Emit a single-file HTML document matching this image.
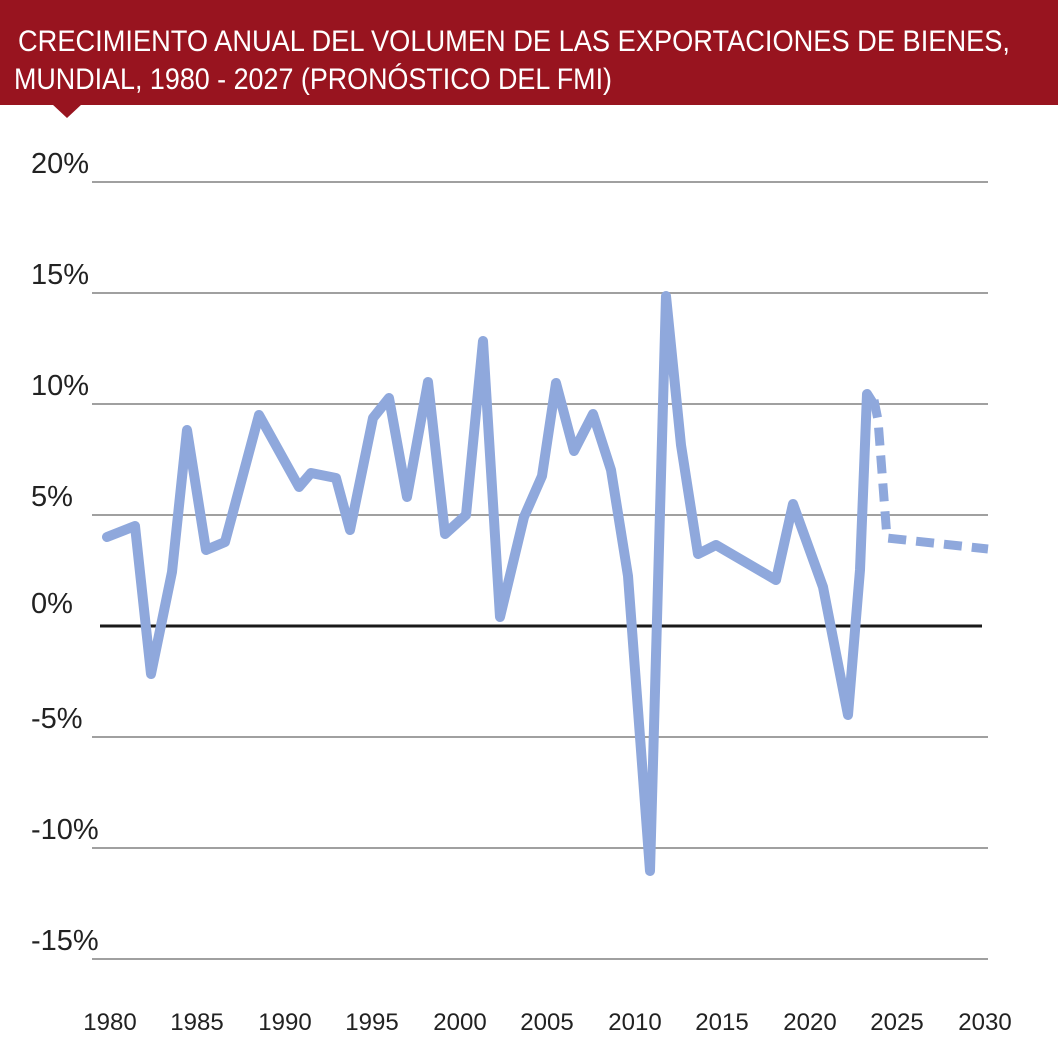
<!DOCTYPE html>
<html><head><meta charset="utf-8"><style>
html,body{margin:0;padding:0;background:#fff;}
svg{display:block;font-family:"Liberation Sans",sans-serif;}
</style></head><body>
<svg width="1058" height="1046" viewBox="0 0 1058 1046">
<rect x="0" y="0" width="1058" height="105" fill="#98141f"/>
<polygon points="52,104 82,104 67,118" fill="#98141f"/>
<text x="18" y="51" font-size="30" fill="#fff" textLength="992" lengthAdjust="spacingAndGlyphs">CRECIMIENTO ANUAL DEL VOLUMEN DE LAS EXPORTACIONES DE BIENES,</text>
<text x="14" y="89" font-size="30" fill="#fff" textLength="598" lengthAdjust="spacingAndGlyphs">MUNDIAL, 1980 - 2027 (PRONÓSTICO DEL FMI)</text>
<g stroke="#a0a0a0" stroke-width="2">
<line x1="92" y1="182" x2="988" y2="182"/>
<line x1="92" y1="293" x2="988" y2="293"/>
<line x1="92" y1="404" x2="988" y2="404"/>
<line x1="92" y1="515" x2="988" y2="515"/>
<line x1="92" y1="737" x2="988" y2="737"/>
<line x1="92" y1="848" x2="988" y2="848"/>
<line x1="92" y1="959" x2="988" y2="959"/>
</g>
<line x1="100" y1="626" x2="982" y2="626" stroke="#1a1a1a" stroke-width="3"/>
<g font-size="29" fill="#222">
<text x="31" y="173">20%</text>
<text x="31" y="284">15%</text>
<text x="31" y="395">10%</text>
<text x="31" y="506">5%</text>
<text x="31" y="613">0%</text>
<text x="31" y="728">-5%</text>
<text x="31" y="839">-10%</text>
<text x="31" y="950">-15%</text>
</g>
<g font-size="24" fill="#222" text-anchor="middle">
<text x="110" y="1030">1980</text>
<text x="197" y="1030">1985</text>
<text x="285" y="1030">1990</text>
<text x="372" y="1030">1995</text>
<text x="460" y="1030">2000</text>
<text x="547" y="1030">2005</text>
<text x="635" y="1030">2010</text>
<text x="722" y="1030">2015</text>
<text x="810" y="1030">2020</text>
<text x="897" y="1030">2025</text>
<text x="985" y="1030">2030</text>
</g>
<polyline fill="none" stroke="#8fa8dc" stroke-width="10" stroke-linejoin="round" stroke-linecap="round"
points="107,537 135,526 151,674 172,572 187,430 206,550 225,542 259,415 299,487 311,473 336,478 350,530 373,418 389,398 407,497 428,382 445,534 466,515 483,341 500,617 524,517 542,476 556,383 574,451 593,414 611,470 628,576 650,871 666,296 681,445 698,554 716,545 776,580 793,504 823,587 848,715 860,570 867,394 872,402"/>
<polyline fill="none" stroke="#8fa8dc" stroke-width="9" stroke-dasharray="18,10"
points="874,400 878,420 887,538 988,549"/>
</svg>
</body></html>
